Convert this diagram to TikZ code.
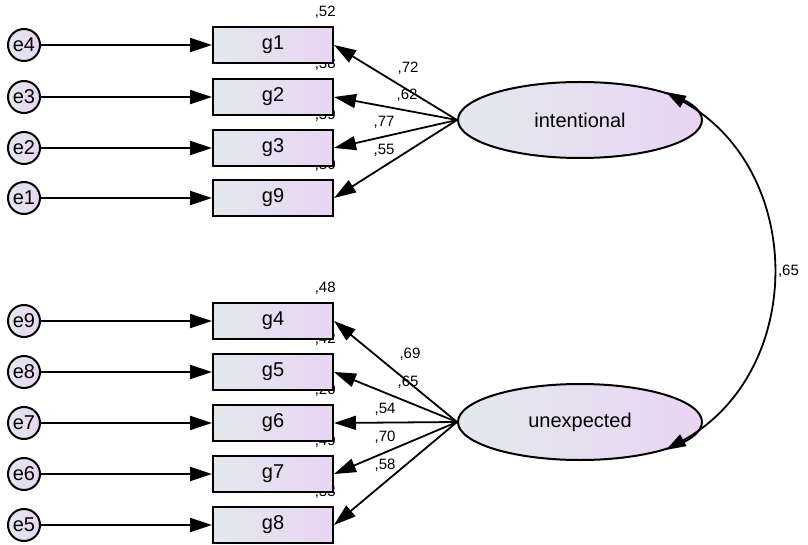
\documentclass[tikz,border=0pt]{standalone}
\usepackage{fontspec}
\setmainfont{Liberation Sans}
\usetikzlibrary{arrows.meta,shapes.geometric}
\definecolor{leftfill}{HTML}{E2E9EE}
\definecolor{rightfill}{HTML}{EAD4F3}
\newcommand{\bigfont}{\fontsize{10}{12}\selectfont}
\newcommand{\smallfont}{\fontsize{7.5}{9}\selectfont}
\begin{document}
\begin{tikzpicture}[x=0.5pt,y=-0.5pt,
  obs/.style={draw,line width=1pt,left color=leftfill,right color=rightfill,
    minimum width=60pt,minimum height=18pt,inner sep=0pt,font=\bigfont},
  err/.style={circle,draw,line width=1pt,left color=leftfill,right color=rightfill,
    minimum size=16pt,inner sep=0pt,font=\bigfont},
  lat/.style={ellipse,draw,line width=1pt,left color=leftfill,right color=rightfill,
    minimum width=122pt,minimum height=38pt,inner sep=0pt,font=\bigfont},
  rsq/.style={anchor=east,inner sep=0pt,font=\smallfont},
  wlab/.style={inner sep=0pt,font=\smallfont},
  arr/.style={line width=0.9pt,-{Triangle[length=11pt,width=7pt]}},
  cov/.style={line width=0.9pt,{Triangle[length=10pt,width=6.5pt]}-{Triangle[length=10pt,width=6.5pt]}}]

\useasboundingbox (0,0) rectangle (808,545);

 % squared multiple correlations, under the boxes
 \foreach \g/\y/\r in {g1/45/52,g2/97/38,g3/148/59,g9/198/30,
                       g4/321/48,g5/372/42,g6/423/20,g7/474/49,g8/525/33}
   \node[rsq] (r\g) at (336,\y-33) {,\r};

 % observed variables and their errors
 \foreach \g/\e/\y in {g1/e4/45,g2/e3/97,g3/e2/148,g9/e1/198,
                       g4/e9/321,g5/e8/372,g6/e7/423,g7/e6/474,g8/e5/525}
 {  \node[obs] (\g) at (273,\y) {\g};
    \node[err] (\e) at (24,\y) {\e};
    \draw[arr] (\e) -- (\g);
 }

 \node[lat] (intl) at (580,120) {intentional};
 \node[lat] (unexp) at (580,422) {unexpected};

 \foreach \g/\x/\y/\w in {g1/408/68/72,g2/407/95/62,g3/384/122/77,g9/384/150/55}
 {  \draw[arr] (intl.west) -- (\g.east);
    \node[wlab] (w\g) at (\x,\y) {,\w};
 }
 \foreach \g/\x/\y/\w in {g4/410/354/69,g5/408/382/65,g6/385/409/54,g7/385/437/70,g8/385/465/58}
 {  \draw[arr] (unexp.west) -- (\g.east);
    \node[wlab] (w\g) at (\x,\y) {,\w};
 }

 \draw[cov] (intl.18) to[out=-29,in=29,looseness=1.15]
   node[right,inner sep=3pt,font=\smallfont] (cv) {,65} (unexp.-18);

\end{tikzpicture}
\end{document}
